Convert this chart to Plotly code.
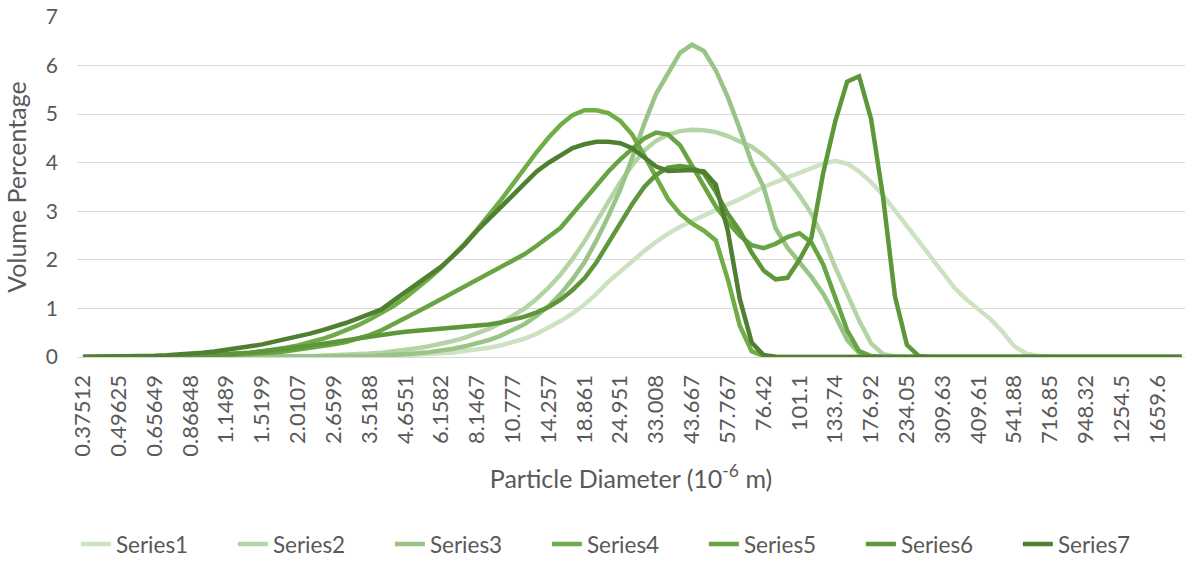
import plotly.graph_objects as go

CATEGORIES = ["0.37512","0.41184","0.45216","0.49625","0.54483","0.59816","0.65649","0.72075","0.79131","0.86848",
              "0.9535","1.0468","1.1489","1.2614","1.3848","1.5199","1.6687","1.832","2.0107","2.2075",
              "2.4236","2.6599","2.9203","3.2061","3.5188","3.8632","4.2414","4.6551","5.1108","5.6111",
              "6.1582","6.761","7.4229","8.1467","8.9442","9.8197","10.777","11.832","12.99","14.257",
              "15.653","17.185","18.861","20.707","22.734","24.951","27.393","30.075","33.008","36.239",
              "39.787","43.667","47.942","52.634","57.767","63.422","69.63","76.42","83.9","92.113",
              "101.1","111","121.86","133.74","146.83","161.21","176.92","194.24","213.25","234.05",
              "256.96","282.11","309.63","339.94","373.21","409.61","449.71","493.73","541.88","594.92",
              "653.16","716.85","787.02","864.06","948.32","1041.2","1143.1","1254.5","1377.3","1512.1",
              "1659.6","1822.1","2000.4"]

TICK_LABELS = ["0.37512","0.49625","0.65649","0.86848","1.1489","1.5199","2.0107","2.6599","3.5188","4.6551",
               "6.1582","8.1467","10.777","14.257","18.861","24.951","33.008","43.667","57.767","76.42",
               "101.1","133.74","176.92","234.05","309.63","409.61","541.88","716.85","948.32","1254.5","1659.6"]

SERIES1 = [0,0,0,0,0,0,0,0,0,0,
           0,0,0,0,0,0,0,0.001,0.001,0.002,
           0.003,0.005,0.007,0.01,0.014,0.019,0.026,0.034,0.045,0.058,
           0.075,0.095,0.12,0.15,0.19,0.24,0.3,0.38,0.48,0.6,
           0.74,0.9,1.08,1.3,1.55,1.76,1.98,2.18,2.37,2.54,
           2.68,2.8,2.92,3.03,3.14,3.25,3.38,3.5,3.6,3.7,
           3.8,3.9,3.98,4.04,3.98,3.82,3.6,3.33,3.03,2.7,
           2.38,2.05,1.72,1.42,1.18,0.98,0.78,0.52,0.22,0.07,
           0.02,0.005,0,0,0,0,0,0,0,0,
           0,0,0]

SERIES2 = [0,0,0,0,0,0,0,0,0,0,
           0,0,0,0.001,0.002,0.004,0.006,0.009,0.013,0.018,
           0.024,0.032,0.042,0.055,0.07,0.09,0.115,0.145,0.18,0.22,
           0.27,0.33,0.4,0.48,0.58,0.7,0.84,1.0,1.2,1.43,
           1.7,2.02,2.38,2.78,3.2,3.6,3.95,4.25,4.45,4.58,
           4.65,4.68,4.67,4.63,4.55,4.45,4.33,4.15,3.92,3.65,
           3.33,2.95,2.45,1.85,1.3,0.75,0.28,0.06,0.01,0,
           0,0,0,0,0,0,0,0,0,0,
           0,0,0,0,0,0,0,0,0,0,
           0,0,0]

SERIES3 = [0,0,0,0,0,0,0,0,0,0,
           0,0,0,0,0,0,0,0,0,0,
           0.005,0.007,0.01,0.015,0.02,0.03,0.04,0.055,0.075,0.1,
           0.13,0.17,0.22,0.28,0.35,0.44,0.55,0.68,0.85,1.05,
           1.3,1.6,1.95,2.4,2.9,3.45,4.1,4.8,5.42,5.86,
           6.26,6.43,6.3,5.9,5.35,4.7,4.0,3.5,2.65,2.25,
           1.95,1.65,1.3,0.85,0.35,0.08,0.01,0,0,0,
           0,0,0,0,0,0,0,0,0,0,
           0,0,0,0,0,0,0,0,0,0,
           0,0,0]

SERIES4 = [0,0,0,0,0,0.002,0.004,0.007,0.011,0.017,
           0.025,0.036,0.05,0.068,0.09,0.118,0.15,0.19,0.24,0.3,
           0.37,0.45,0.54,0.65,0.77,0.9,1.05,1.22,1.41,1.62,
           1.84,2.08,2.34,2.62,2.92,3.23,3.56,3.9,4.22,4.52,
           4.78,4.98,5.08,5.08,5.02,4.86,4.58,4.15,3.7,3.25,
           2.95,2.75,2.6,2.4,1.6,0.65,0.12,0.02,0,0,
           0,0,0,0,0,0,0,0,0,0,
           0,0,0,0,0,0,0,0,0,0,
           0,0,0,0,0,0,0,0,0,0,
           0,0,0]

SERIES5 = [0,0,0,0.001,0.002,0.003,0.005,0.007,0.01,0.014,
           0.02,0.027,0.036,0.047,0.06,0.075,0.095,0.12,0.15,0.18,
           0.22,0.26,0.31,0.37,0.45,0.55,0.67,0.8,0.93,1.06,
           1.19,1.32,1.45,1.58,1.71,1.84,1.97,2.12,2.29,2.47,
           2.66,2.95,3.24,3.53,3.82,4.07,4.28,4.5,4.62,4.58,
           4.36,3.95,3.52,3.1,2.78,2.5,2.3,2.24,2.33,2.47,
           2.55,2.36,1.9,1.25,0.55,0.12,0.02,0,0,0,
           0,0,0,0,0,0,0,0,0,0,
           0,0,0,0,0,0,0,0,0,0,
           0,0,0]

SERIES6 = [0,0,0,0.001,0.002,0.004,0.006,0.01,0.015,0.022,
           0.03,0.04,0.055,0.07,0.09,0.115,0.14,0.17,0.2,0.23,
           0.27,0.31,0.35,0.39,0.43,0.46,0.49,0.52,0.54,0.56,
           0.58,0.6,0.62,0.64,0.67,0.71,0.76,0.83,0.92,1.03,
           1.18,1.38,1.62,1.95,2.35,2.75,3.15,3.5,3.75,3.9,
           3.93,3.9,3.78,3.4,2.95,2.6,2.15,1.78,1.6,1.63,
           2.0,2.45,3.8,4.85,5.67,5.78,4.9,3.3,1.25,0.25,
           0.02,0,0,0,0,0,0,0,0,0,
           0,0,0,0,0,0,0,0,0,0,
           0,0,0]

SERIES7 = [0.002,0.003,0.005,0.008,0.012,0.018,0.026,0.037,0.05,0.068,
           0.09,0.115,0.145,0.18,0.22,0.26,0.31,0.36,0.42,0.48,
           0.55,0.62,0.7,0.79,0.88,0.98,1.16,1.34,1.52,1.68,
           1.86,2.08,2.32,2.6,2.85,3.1,3.33,3.58,3.82,4.0,
           4.16,4.3,4.38,4.43,4.43,4.4,4.3,4.12,3.92,3.83,
           3.84,3.85,3.82,3.55,2.6,1.2,0.3,0.04,0.005,0,
           0,0,0,0,0,0,0,0,0,0,
           0,0,0,0,0,0,0,0,0,0,
           0,0,0,0,0,0,0,0,0,0,
           0,0,0]

SERIES_NAMES = ["Series1", "Series2", "Series3", "Series4", "Series5", "Series6", "Series7"]
SERIES_VALUES = [SERIES1, SERIES2, SERIES3, SERIES4, SERIES5, SERIES6, SERIES7]
COLORS = ["#cde2c3", "#b5d4a5", "#98c485", "#70ad47", "#67a443", "#5e963a", "#4f7f30"]

FONT = "Lato"
TEXT_COLOR = "#595959"
GRID_COLOR = "#d9d9d9"

fig = go.Figure()
for name, vals, color in zip(SERIES_NAMES, SERIES_VALUES, COLORS):
    fig.add_trace(go.Scatter(
        x=CATEGORIES, y=vals, mode="lines", name=name,
        line=dict(color=color, width=4.5),
        hoverinfo="x+y+name",
    ))

fig.update_layout(
    width=1185, height=566,
    margin=dict(l=77, r=0, t=17, b=206),
    paper_bgcolor="white", plot_bgcolor="white",
    font=dict(family=FONT, color=TEXT_COLOR, size=20),
    showlegend=True,
    legend=dict(
        orientation="h", x=-0.001, xanchor="left", y=-0.551, yanchor="middle",
        font=dict(family=FONT, size=22.5, color=TEXT_COLOR),
        entrywidth=112, entrywidthmode="pixels",
        bgcolor="rgba(0,0,0,0)", borderwidth=0,
    ),
)

fig.update_xaxes(
    type="category",
    range=[-0.5, 92.29],
    tickmode="array", tickvals=TICK_LABELS, ticktext=TICK_LABELS,
    tickangle=-90,
    tickfont=dict(family=FONT, size=22, color=TEXT_COLOR),
    ticks="", showgrid=False, zeroline=False,
    showline=True, linecolor=GRID_COLOR, linewidth=1.3,
    ticklabelstandoff=8,
    title=dict(text="Particle Diameter (10<sup>-6</sup> m)", font=dict(family=FONT, size=25, color=TEXT_COLOR), standoff=14),
    automargin=False,
)

fig.update_yaxes(
    range=[0, 7], dtick=1, tick0=0,
    tickfont=dict(family=FONT, size=21, color=TEXT_COLOR),
    ticks="", showgrid=True, gridcolor=GRID_COLOR, gridwidth=1.3,
    zeroline=False, showline=False,
    ticklabelstandoff=18,
    title=dict(text="Volume Percentage", font=dict(family=FONT, size=25, color=TEXT_COLOR), standoff=12),
    automargin=False,
)

fig.write_html("out.html", config={"displayModeBar": False},
               post_script="document.body.style.margin='0';")
